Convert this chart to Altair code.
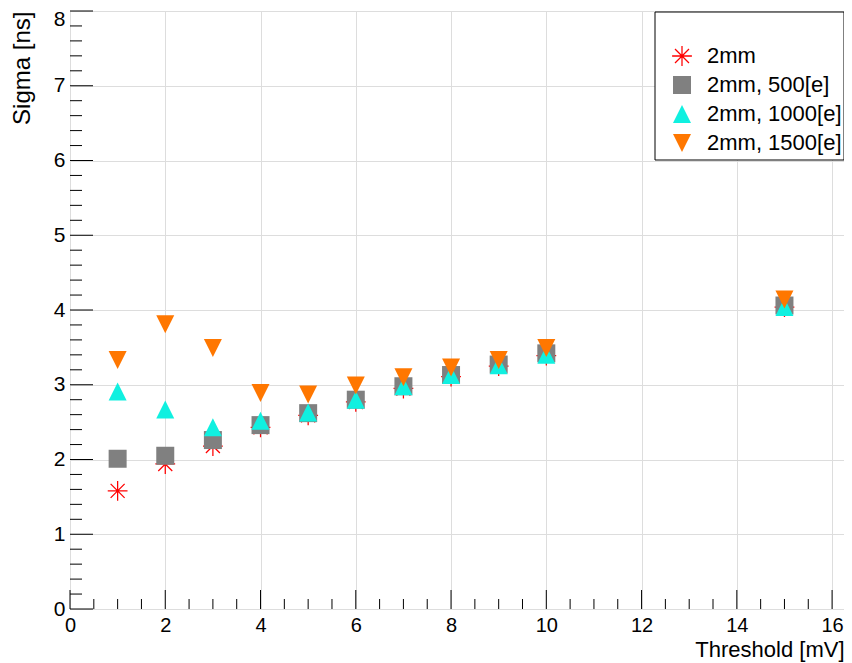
import altair as alt
import numpy as np
import pandas as pd

# ---- data ----
thresholds = [1, 2, 3, 4, 5, 6, 7, 8, 9, 10, 15]
sigma_2mm = [1.58, 1.94, 2.18, 2.43, 2.59, 2.77, 2.95, 3.11, 3.25, 3.39, 4.04]
sigma_500 = [2.01, 2.05, 2.26, 2.46, 2.62, 2.80, 2.98, 3.13, 3.27, 3.42, 4.06]
sigma_1000 = [2.91, 2.67, 2.43, 2.52, 2.63, 2.80, 2.98, 3.13, 3.26, 3.40, 4.04]
sigma_1500 = [3.33, 3.81, 3.49, 2.89, 2.87, 2.99, 3.10, 3.23, 3.33, 3.49, 4.14]

series_names = ["2mm", "2mm, 500[e]", "2mm, 1000[e]", "2mm, 1500[e]"]
series_colors = ["#ff0000", "#808080", "#10f0e0", "#ff7700"]

STAR = ("M-1.1,-0.07L1.1,-0.07L1.1,0.07L-1.1,0.07Z "
        "M-0.07,-1.1L0.07,-1.1L0.07,1.1L-0.07,1.1Z "
        "M-0.728,-0.827L0.827,0.728L0.728,0.827L-0.827,-0.728Z "
        "M0.728,-0.827L0.827,-0.728L-0.728,0.827L-0.827,0.728Z")
TRI_UP = "M0,-1L1,1L-1,1Z"
TRI_DOWN = "M-1,-1L1,-1L0,1Z"
series_shapes = [STAR, "square", TRI_UP, TRI_DOWN]

x_major = [0, 2, 4, 6, 8, 10, 12, 14, 16]
y_major = [0, 1, 2, 3, 4, 5, 6, 7, 8]
x_minor = [v for v in np.arange(0, 16.01, 0.5).round(2).tolist() if v not in x_major]
y_minor = [v for v in np.arange(0, 8.01, 0.2).round(2).tolist() if v not in y_major]

W, H = 774, 598
XMAX = 16.25
FONT = "Liberation Sans"

rows = []
for k, (name, vals) in enumerate(zip(series_names, [sigma_2mm, sigma_500, sigma_1000, sigma_1500])):
    for t, s in zip(thresholds, vals):
        rows.append({"x": t, "y": s, "series": name, "ord": k})
df = pd.DataFrame(rows)

xscale = alt.Scale(domain=[0, XMAX], nice=False, zero=False)
yscale = alt.Scale(domain=[0, 8], nice=False, zero=False)

xaxis = alt.Axis(
    values=x_major, grid=True, ticks=False, tickSize=0, domain=False,
    labelPadding=6, labelFlush=False, labelFontSize=20, labelFont=FONT,
    labelColor="black",
    title="Threshold [mV]", titleFont=FONT, titleFontSize=22,
    titleFontWeight="normal", titleColor="black", titleAnchor="end",
    titleAlign="right", titleBaseline="alphabetic", titleX=W, titleY=47)
yaxis = alt.Axis(
    values=y_major, grid=True, ticks=False, tickSize=0, domain=False,
    labelPadding=5, labelFlush=False, labelFontSize=21, labelFont=FONT,
    labelColor="black",
    labelOffset={"condition": {"test": "datum.value == 8", "value": 8}, "value": 0},
    title="Sigma [ns]", titleFont=FONT, titleFontSize=24,
    titleFontWeight="normal", titleColor="black", titleAnchor="end",
    titleAlign="right", titleBaseline="alphabetic", titleX=-41, titleY=0)

X = alt.X("x:Q", scale=xscale, axis=xaxis)
Y = alt.Y("y:Q", scale=yscale, axis=yaxis)

legend = alt.Legend(
    title=None, orient="none", legendX=601, legendY=34,
    labelFont=FONT, labelFontSize=22, labelColor="black",
    symbolSize=324, symbolStrokeWidth=0, rowPadding=7, labelOffset=14,
)

points = alt.Chart(df).mark_point(filled=True, opacity=1, size=324).encode(
    x=X, y=Y,
    color=alt.Color("series:N", scale=alt.Scale(domain=series_names, range=series_colors), legend=legend),
    shape=alt.Shape("series:N", scale=alt.Scale(domain=series_names, range=series_shapes), legend=legend),
    order=alt.Order("ord:Q"),
)

ymaj = alt.Chart(pd.DataFrame({"y": y_major})).mark_rule(color="black").encode(
    y=Y, x=alt.value(0), x2=alt.value(23))
ymin = alt.Chart(pd.DataFrame({"y": y_minor})).mark_rule(color="black").encode(
    y=Y, x=alt.value(0), x2=alt.value(12))
xmaj = alt.Chart(pd.DataFrame({"x": x_major})).mark_rule(color="black").encode(
    x=X, y=alt.value(H), y2=alt.value(H - 19))
xmin = alt.Chart(pd.DataFrame({"x": x_minor})).mark_rule(color="black").encode(
    x=X, y=alt.value(H), y2=alt.value(H - 10))

box = alt.Chart(pd.DataFrame({"a": [0]})).mark_rect(
    fill="white", stroke="black", strokeWidth=1).encode(
    x=alt.value(585), x2=alt.value(W), y=alt.value(1), y2=alt.value(149))

chart = alt.layer(box, ymaj, ymin, xmaj, xmin, points).properties(
    width=W, height=H,
    autosize=alt.AutoSizeParams(type="none"),
    padding={"left": 62, "top": 3, "right": 0, "bottom": 53},
).configure_view(stroke="black", strokeWidth=1).configure_axis(
    gridColor="#333333", gridDash=[1, 2], gridWidth=1, gridOpacity=1,
).configure(background="white")

chart.save("out.html", embed_options={"renderer": "svg", "actions": False})
